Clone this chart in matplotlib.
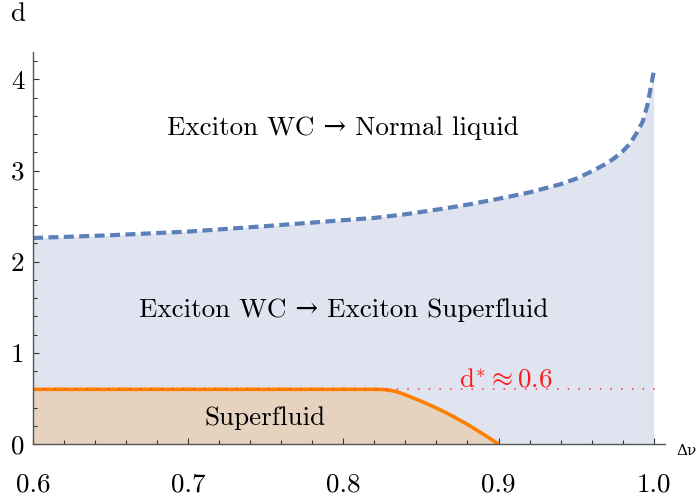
import matplotlib
matplotlib.use('Agg')
import matplotlib.pyplot as plt
from matplotlib.ticker import MultipleLocator

plt.rcParams['font.family'] = ['cmr10', 'DejaVu Serif']
plt.rcParams['mathtext.fontset'] = 'cm'
plt.rcParams['axes.formatter.use_mathtext'] = True

# upper boundary: exciton WC -> normal liquid (dashed)
nu_up = [0.6, 0.65, 0.7, 0.75, 0.8, 0.82, 0.84, 0.86, 0.88, 0.9, 0.92, 0.94,
         0.95, 0.96, 0.97, 0.975, 0.98, 0.985, 0.99, 0.993, 0.996, 0.998, 1.0]
d_up = [2.26, 2.29, 2.33, 2.39, 2.455, 2.48, 2.52, 2.57, 2.625, 2.69, 2.76, 2.85,
        2.91, 2.99, 3.08, 3.14, 3.21, 3.30, 3.44, 3.54, 3.72, 3.90, 4.08]

# superfluid boundary (orange)
nu_sf = [0.6, 0.82, 0.825, 0.83, 0.835, 0.84, 0.845, 0.85, 0.86, 0.87, 0.88, 0.89, 0.9]
d_sf = [0.6, 0.6, 0.598, 0.59, 0.57, 0.54, 0.505, 0.47, 0.395, 0.31, 0.215, 0.11, 0.0]

d_star = 0.6
xticks = [0.6, 0.7, 0.8, 0.9, 1.0]
xlabels = ['0.6', '0.7', '0.8', '0.9', '1.0']
yticks = [0, 1, 2, 3, 4]
ylabels = ['0', '1', '2', '3', '4']

fs = 19.5

fig = plt.figure(figsize=(6.99, 4.99), dpi=100)
ax = fig.add_axes([33/699, 55/499, 632/699, 392/499])

ax.fill_between(nu_up, d_up, 0, color='#dfe4f0', lw=0)
ax.fill_between(nu_sf, d_sf, 0, color='#e5d3c0', lw=0)
ax.plot(nu_up, d_up, color='#5b7fb8', lw=3, dashes=(2.4, 1.3), dash_capstyle='butt')
ax.plot(nu_sf, d_sf, color='#ff8000', lw=2.6, solid_capstyle='butt')
ax.plot([0.6, 1.002], [d_star, d_star], color='#ff3030', lw=1.1, ls=(0, (1, 6)))

ax.text(0.8, 3.46, 'Exciton WC \u2192 Normal liquid', ha='center', va='center', fontsize=fs)
ax.text(0.8, 1.47, 'Exciton WC \u2192 Exciton Superfluid', ha='center', va='center', fontsize=fs)
ax.text(0.7494, 0.285, 'Superfluid', ha='center', va='center', fontsize=fs)
ax.text(0.9047, 0.70, r'd$^{*}\approx$0.6', ha='center', va='center', fontsize=fs, color='#ff1a1a')

ax.set_xlim(0.6, 1.0073)
ax.set_ylim(0, 4.3)
for s in ['top', 'right']:
    ax.spines[s].set_visible(False)
for s in ['left', 'bottom']:
    ax.spines[s].set_color('#555555')
    ax.spines[s].set_linewidth(1.0)
ax.set_xticks(xticks)
ax.set_xticklabels(xlabels)
ax.set_yticks(yticks)
ax.set_yticklabels(ylabels)
ax.xaxis.set_minor_locator(MultipleLocator(0.02))
ax.yaxis.set_minor_locator(MultipleLocator(0.2))
ax.tick_params(which='both', direction='in', color='#333333', width=0.8, labelsize=fs)
ax.tick_params(which='major', length=4.5)
ax.tick_params(which='minor', length=2.8)
ax.tick_params(axis='x', pad=21)
ax.tick_params(axis='y', pad=6)

fig.text(18/699, 1 - 14/499, 'd', ha='center', va='center', fontsize=fs)
fig.text(697/699, 1 - 451/499, '\u0394\u03bd', ha='right', va='center', fontsize=11)

fig.savefig('out.png', dpi=100)
